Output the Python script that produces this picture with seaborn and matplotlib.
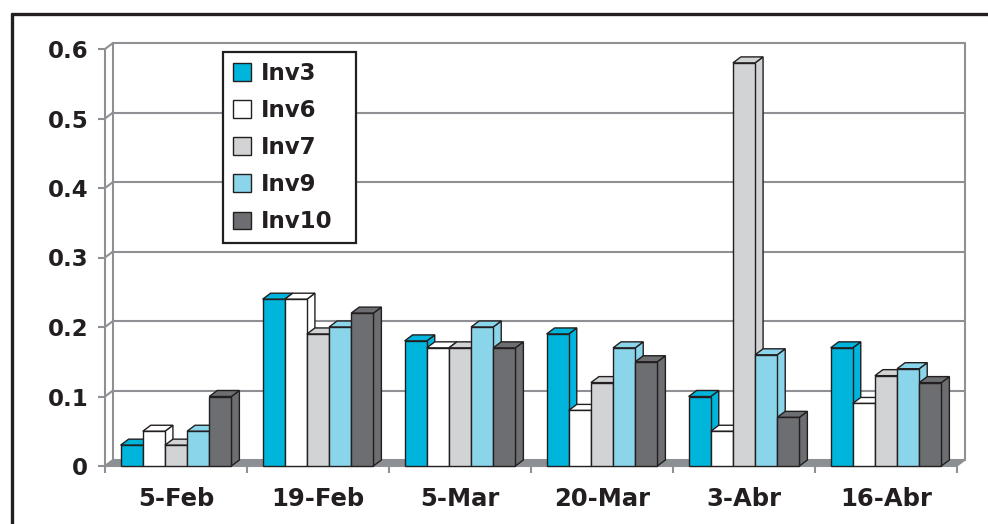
import numpy as np
import pandas as pd
import matplotlib
matplotlib.use("Agg")
import matplotlib.pyplot as plt
from matplotlib.patches import Polygon, Rectangle
from matplotlib.lines import Line2D
import seaborn as sns

# Sampling dates and the five series
dates = ["5-Feb", "19-Feb", "5-Mar", "20-Mar", "3-Abr", "16-Abr"]
series = ["Inv3", "Inv6", "Inv7", "Inv9", "Inv10"]
inv3 = [0.03, 0.24, 0.18, 0.19, 0.10, 0.17]
inv6 = [0.05, 0.24, 0.17, 0.08, 0.05, 0.09]
inv7 = [0.03, 0.19, 0.17, 0.12, 0.58, 0.13]
inv9 = [0.05, 0.20, 0.20, 0.17, 0.16, 0.14]
inv10 = [0.10, 0.22, 0.17, 0.15, 0.07, 0.12]
y_ticks = [0.0, 0.1, 0.2, 0.3, 0.4, 0.5, 0.6]
y_tick_labels = ["0", "0.1", "0.2", "0.3", "0.4", "0.5", "0.6"]

colors = ["#00B5DB", "#FFFFFF", "#D1D3D4", "#8AD5EA", "#6D6E71"]
edge = "#231F20"
wall = "#8E9093"
floor_col = "#8A8F94"

sns.set_style("white")
plt.rcParams["font.family"] = ["DejaVu Sans"]
plt.rcParams["font.weight"] = "bold"
plt.rcParams["text.color"] = edge

W, H = 988, 524
fig = plt.figure(figsize=(W / 100, H / 100), dpi=100)
fig.patch.set_facecolor("white")

# front plane of the plot area, in pixels
x0, x1, y0, y1 = 105, 957, 466, 49
ax = fig.add_axes([x0 / W, (H - y0) / H, (x1 - x0) / W, (y0 - y1) / H])
ax.patch.set_visible(False)

values = inv3 + inv6 + inv7 + inv9 + inv10
df = pd.DataFrame({
    "Fecha": dates * len(series),
    "Serie": [s for s in series for _ in dates],
    "Valor": values,
})

sns.barplot(data=df, x="Fecha", y="Valor", hue="Serie", order=dates,
            hue_order=series, palette=colors, saturation=1, width=0.78,
            gap=0, edgecolor=edge, linewidth=1.0, errorbar=None, ax=ax)
bars = [p for p in ax.patches if isinstance(p, Rectangle) and p.get_width() > 0]
bars.sort(key=lambda p: p.get_x())

xmin, xmax, ymax = -0.5, len(dates) - 0.5, 0.6
ax.set_xlim(xmin, xmax)
ax.set_ylim(0, ymax)

# depth of the pseudo-3D walls and bars, in data units
ddx = 8 * (xmax - xmin) / (x1 - x0)
ddy = 6 * ymax / (y0 - y1)

# back wall gridlines and left wall diagonals
for v in y_ticks:
    ax.plot([xmin + ddx, xmax + ddx], [v + ddy, v + ddy], color=wall,
            lw=1.5, clip_on=False, zorder=0.5)
    ax.plot([xmin, xmin + ddx], [v, v + ddy], color=wall, lw=1.5,
            clip_on=False, zorder=0.5)
ax.plot([xmin, xmin], [0, ymax], color=wall, lw=1.5, clip_on=False, zorder=0.6)
ax.plot([xmin + ddx, xmin + ddx], [ddy, ymax + ddy], color=wall, lw=1.5,
        clip_on=False, zorder=0.6)
ax.plot([xmax + ddx, xmax + ddx], [ddy, ymax + ddy], color=wall, lw=1.5,
        clip_on=False, zorder=0.6)

# floor
ax.add_patch(Polygon([(xmin, 0), (xmax, 0), (xmax + ddx, ddy), (xmin + ddx, ddy)],
                     closed=True, facecolor=floor_col, edgecolor=wall, lw=1.0,
                     zorder=0.8, clip_on=False))
ax.plot([xmin, xmax], [0, 0], color=wall, lw=1.5, clip_on=False, zorder=0.9)

# side and top faces for every bar, stacked left to right
for i, p in enumerate(bars):
    bx, bw, bh = p.get_x(), p.get_width(), p.get_height()
    fc = p.get_facecolor()
    z = 3 + i * 0.01
    side = Polygon([(bx + bw, 0), (bx + bw, bh), (bx + bw + ddx, bh + ddy),
                    (bx + bw + ddx, ddy)], closed=True, facecolor=fc,
                   edgecolor=edge, lw=1.0, zorder=z, clip_on=False)
    top = Polygon([(bx, bh), (bx + bw, bh), (bx + bw + ddx, bh + ddy),
                   (bx + ddx, bh + ddy)], closed=True, facecolor=fc,
                  edgecolor=edge, lw=1.0, zorder=z, clip_on=False)
    ax.add_patch(side)
    ax.add_patch(top)
    p.set_zorder(z + 0.005)
    p.set_clip_on(False)

for s in ax.spines.values():
    s.set_visible(False)

ax.set_xlabel("")
ax.set_ylabel("")
ax.set_yticks(y_ticks)
ax.set_yticklabels(y_tick_labels, fontsize=16.5, fontweight="bold", color=edge)
ax.tick_params(axis="y", length=5, width=1.5, color=wall, pad=7, left=True)
ax.set_xticks(range(len(dates)))
ax.set_xticklabels(dates, fontsize=17.5, fontweight="bold", color=edge)
ax.set_xticks(np.arange(xmin, xmax + 0.01, 1.0), minor=True)
ax.tick_params(axis="x", which="major", length=0, pad=15)
ax.tick_params(axis="x", which="minor", length=5, width=1.5, color=wall,
               bottom=True)
ax.grid(False)

# legend
old = ax.get_legend()
handles = old.legend_handles
labels = [t.get_text() for t in old.get_texts()]
old.remove()
leg = ax.legend(handles, labels, loc="upper left", mode="expand",
                bbox_to_anchor=(223 / W, (H - 240) / H, 133 / W, 188 / H),
                bbox_transform=fig.transFigure, borderaxespad=0,
                frameon=True, fancybox=False, framealpha=1, edgecolor=edge,
                prop={"size": 16.5, "weight": "bold"}, handlelength=0.82,
                handleheight=0.82, handletextpad=0.42, labelspacing=0.62,
                borderpad=0.42)
leg.get_frame().set_linewidth(1.6)
leg.set_zorder(10)
for h in leg.legend_handles:
    h.set_edgecolor(edge)
    h.set_linewidth(1.0)

# outer frame (left and top edges)
fig.add_artist(Line2D([12 / W, 12 / W], [0, 1 - 14 / H], color=edge, lw=2.4,
                      transform=fig.transFigure))
fig.add_artist(Line2D([12 / W, 1], [1 - 14 / H, 1 - 14 / H], color=edge, lw=2.4,
                      transform=fig.transFigure))

fig.savefig("out.png", dpi=100)
